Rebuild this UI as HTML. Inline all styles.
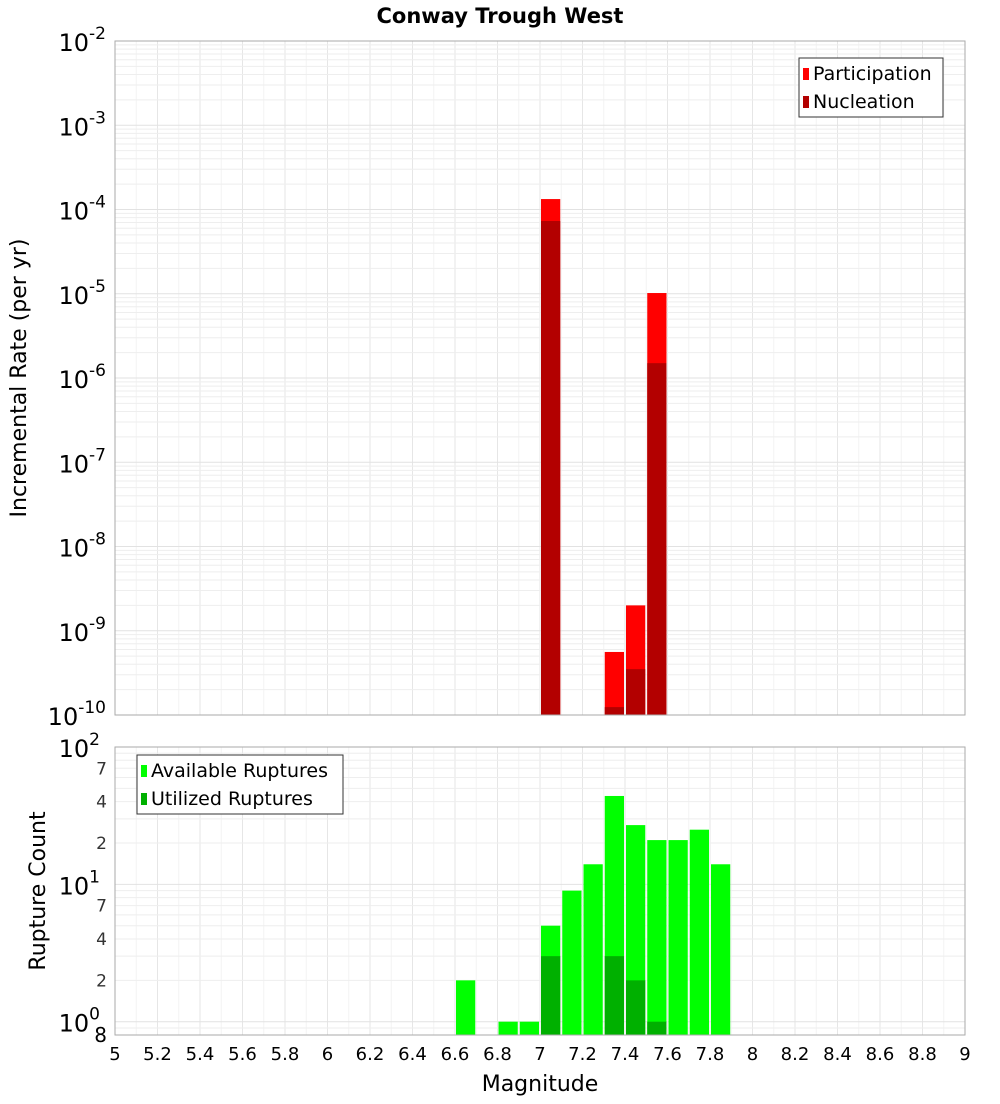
<!DOCTYPE html>
<html><head><meta charset="utf-8"><style>
body{margin:0;background:#fff;font-family:"DejaVu Sans","Liberation Sans",sans-serif;}
svg text{font-family:"DejaVu Sans","Liberation Sans",sans-serif;}
</style></head><body>
<svg id="chart" width="1000" height="1100" xmlns="http://www.w3.org/2000/svg">
<rect width="1000" height="1100" fill="#fff"/>
<text x="500" y="23" text-anchor="middle" font-size="21" font-weight="bold">Conway Trough West</text>
<g id="topPlot"></g>
<g id="botPlot"></g>
<text transform="translate(26,378) rotate(-90)" text-anchor="middle" font-size="22">Incremental Rate (per yr)</text>
<text transform="translate(45,891) rotate(-90)" text-anchor="middle" font-size="22">Rupture Count</text>
<text x="540" y="1091" text-anchor="middle" font-size="22">Magnitude</text>
</svg>
<script>
const rateMags=[7.0,7.3,7.4,7.5];
const participation=[1.33e-4,5.6e-10,2.0e-9,1.02e-5];
const nucleation=[7.3e-5,1.24e-10,3.5e-10,1.5e-6];
const countMags=[6.6,6.8,6.9,7.0,7.1,7.2,7.3,7.4,7.5,7.6,7.7,7.8];
const available=[2,1,1,5,9,14,44,27,21,21,25,14];
const utilMags=[7.0,7.3,7.4,7.5];
const utilized=[3,3,2,1];
const xTicks=["5","5.2","5.4","5.6","5.8","6","6.2","6.4","6.6","6.8","7","7.2","7.4","7.6","7.8","8","8.2","8.4","8.6","8.8","9"];
const topExps=[-2,-3,-4,-5,-6,-7,-8,-9,-10];
const botMinorLabels=[2,4,7];

const NS="http://www.w3.org/2000/svg";
const L=115,R=965;
const X=m=>L+(m-5)/4*(R-L);
const T0=41,T1=715;
const yTop=v=>T0+(-2-Math.log10(v))/8*(T1-T0);
const B0=747,B1=1035;
const bMin=Math.log10(0.8),bMax=2;
const yBot=v=>B0+(bMax-Math.log10(v))/(bMax-bMin)*(B1-B0);
function mk(p,tag,a,txt){const e=document.createElementNS(NS,tag);for(const k in a)e.setAttribute(k,a[k]);if(txt!==undefined)e.textContent=txt;p.appendChild(e);return e;}
const gTop=document.getElementById('topPlot'),gBot=document.getElementById('botPlot');

function grids(g,y0,y1,yf,lo,hi){
  for(let i=0;i<=40;i++){const x=X(5+i*0.1);
    const l=mk(g,'line',{x1:x,x2:x,y1:y0,y2:y1,stroke:i%2?'#f4f4f4':'#e6e6e6','stroke-width':1});
    }
  for(let e=lo;e<hi;e++)for(let k=1;k<10;k++){const v=k*Math.pow(10,e);const y=yf(v);if(y<y0-0.5||y>y1+0.5)continue;
    const l=mk(g,'line',{x1:L,x2:R,y1:y,y2:y,stroke:k==1?'#e2e2e2':'#eeeeee','stroke-width':1});
    }
}
grids(gTop,T0,T1,yTop,-10,-2);
grids(gBot,B0,B1,yBot,-1,2);

const bw=(X(5.1)-X(5))-2;
rateMags.forEach((m,i)=>{
  const x=X(m)+1;
  let r=mk(gTop,'rect',{x:x,y:yTop(participation[i]),width:bw,height:T1-yTop(participation[i]),fill:'#ff0000'});
  
  r=mk(gTop,'rect',{x:x,y:yTop(nucleation[i]),width:bw,height:T1-yTop(nucleation[i]),fill:'#b30000'});
  
});
countMags.forEach((m,i)=>{
  const r=mk(gBot,'rect',{x:X(m)+1,y:yBot(available[i]),width:bw,height:B1-yBot(available[i]),fill:'#00ff00'});
  
});
utilMags.forEach((m,i)=>{
  const r=mk(gBot,'rect',{x:X(m)+1,y:yBot(utilized[i]),width:bw,height:B1-yBot(utilized[i]),fill:'#00b000'});
  
});
mk(gTop,'rect',{x:L,y:T0,width:R-L,height:T1-T0,fill:'none',stroke:'#aaa'});
mk(gBot,'rect',{x:L,y:B0,width:R-L,height:B1-B0,fill:'none',stroke:'#aaa'});

topExps.forEach(e=>{
  const y=yTop(Math.pow(10,e));
  const t=mk(gTop,'text',{x:106,y:y+10,'text-anchor':'end','font-size':24});
  
  mk(t,'tspan',{},'10');mk(t,'tspan',{dy:-12,'font-size':17},String(e));
});
[0,1,2].forEach(e=>{
  const y=yBot(Math.pow(10,e));
  const t=mk(gBot,'text',{x:100,y:y+10,'text-anchor':'end','font-size':24});
  
  mk(t,'tspan',{},'10');mk(t,'tspan',{dy:-12,'font-size':17},String(e));
});
[0,1].forEach(e=>botMinorLabels.forEach(k=>{
  const y=yBot(k*Math.pow(10,e));
  const t=mk(gBot,'text',{x:107,y:y+6,'text-anchor':'end','font-size':17,fill:'#333'},String(k));
  
}));
{const t=mk(gBot,'text',{x:107,y:1042,'text-anchor':'end','font-size':20},'8');}
xTicks.forEach(s=>{
  const t=mk(gBot,'text',{x:X(parseFloat(s)),y:1060,'text-anchor':'middle','font-size':18},s);
  
});
function legend(g,x,y,w,items,name){
  const lg=mk(g,'g',{});
  mk(lg,'rect',{x:x,y:y,width:w,height:59,fill:'#fff',stroke:'#333'});
  items.forEach((it,i)=>{
    mk(lg,'rect',{x:x+4,y:y+10+i*28,width:6,height:12,fill:it[1]});
    const t=mk(lg,'text',{x:x+14,y:y+22+i*28,'font-size':19},it[0]);
    
  });
}
legend(gTop,799,58,144,[['Participation','#ff0000'],['Nucleation','#b30000']],'rate-legend');
legend(gBot,137,755,206,[['Available Ruptures','#00ff00'],['Utilized Ruptures','#00b000']],'count-legend');
</script>
</body></html>
